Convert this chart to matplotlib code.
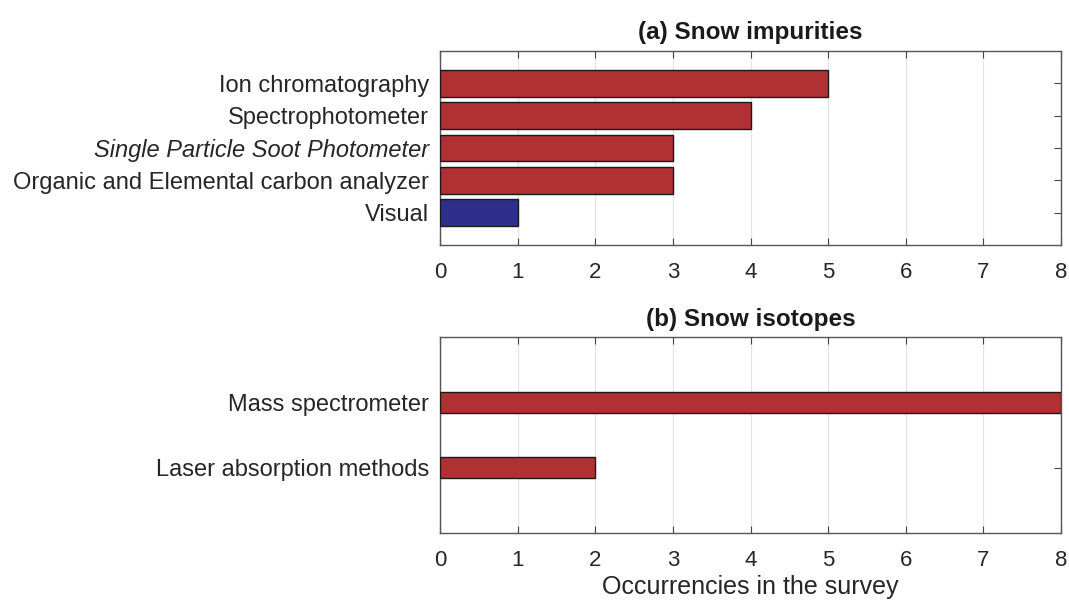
import matplotlib
import matplotlib.pyplot as plt
import numpy as np

matplotlib.use("Agg")

plt.rcParams["font.family"] = ["Liberation Sans", "DejaVu Sans"]

# (a) snow impurities, listed bottom to top
imp_labels = [
    "Visual",
    "Organic and Elemental carbon analyzer",
    "Single Particle Soot Photometer",
    "Spectrophotometer",
    "Ion chromatography",
]
imp_values = [1, 3, 3, 4, 5]
imp_colors = ["#2e2e8c", "#b03034", "#b03034", "#b03034", "#b03034"]

# (b) snow isotopes, bottom to top
iso_labels = ["Laser absorption methods", "Mass spectrometer"]
iso_values = [2, 8]

xticks = np.arange(0, 9)

fig = plt.figure(figsize=(10.69, 6.02), dpi=100)
# axes boxes in pixels: left 440, right 1061; (a) 51-245, (b) 337-533
W, H = 1069, 602
ax_a = fig.add_axes([440 / W, 1 - 245 / H, 621 / W, 194 / H])
ax_b = fig.add_axes([440 / W, 1 - 533 / H, 621 / W, 196 / H])


def _style(ax):
    ax.set_xlim(0, 8)
    ax.set_xticks(xticks)
    ax.grid(axis="x", color="#e3e3e3", linewidth=0.9)
    ax.set_axisbelow(True)
    ax.tick_params(axis="both", direction="in", length=5, width=0.8,
                   color="#444444", labelcolor="#262626",
                   right=True, top=True)
    ax.tick_params(axis="x", pad=12, labelsize=16)
    ax.tick_params(axis="y", pad=8, labelsize=17)
    for spine in ax.spines.values():
        spine.set_color("#555555")
        spine.set_linewidth(1.0)


pos_a = np.arange(1, len(imp_values) + 1)
ax_a.barh(pos_a, imp_values, height=0.82, color=imp_colors,
          edgecolor="#1a1a1a", linewidth=1.0, zorder=3)
ax_a.set_ylim(0, 6)
ax_a.set_yticks(pos_a)
ax_a.set_yticklabels(imp_labels)
ax_a.get_yticklabels()[2].set_style("italic")
_style(ax_a)
ax_a.set_title("(a) Snow impurities", fontsize=17.5, fontweight="bold",
               color="#1a1a1a", pad=9)

pos_b = np.arange(1, len(iso_values) + 1)
ax_b.barh(pos_b, iso_values, height=0.33, color="#b03034",
          edgecolor="#1a1a1a", linewidth=1.0, zorder=3)
ax_b.set_ylim(0, 3)
ax_b.set_yticks(pos_b)
ax_b.set_yticklabels(iso_labels)
_style(ax_b)
ax_b.set_title("(b) Snow isotopes", fontsize=17.5, fontweight="bold",
               color="#1a1a1a", pad=8)
ax_b.set_xlabel("Occurrencies in the survey", fontsize=18, color="#262626",
                labelpad=3)

fig.savefig("out.png", dpi=100, facecolor="white")
